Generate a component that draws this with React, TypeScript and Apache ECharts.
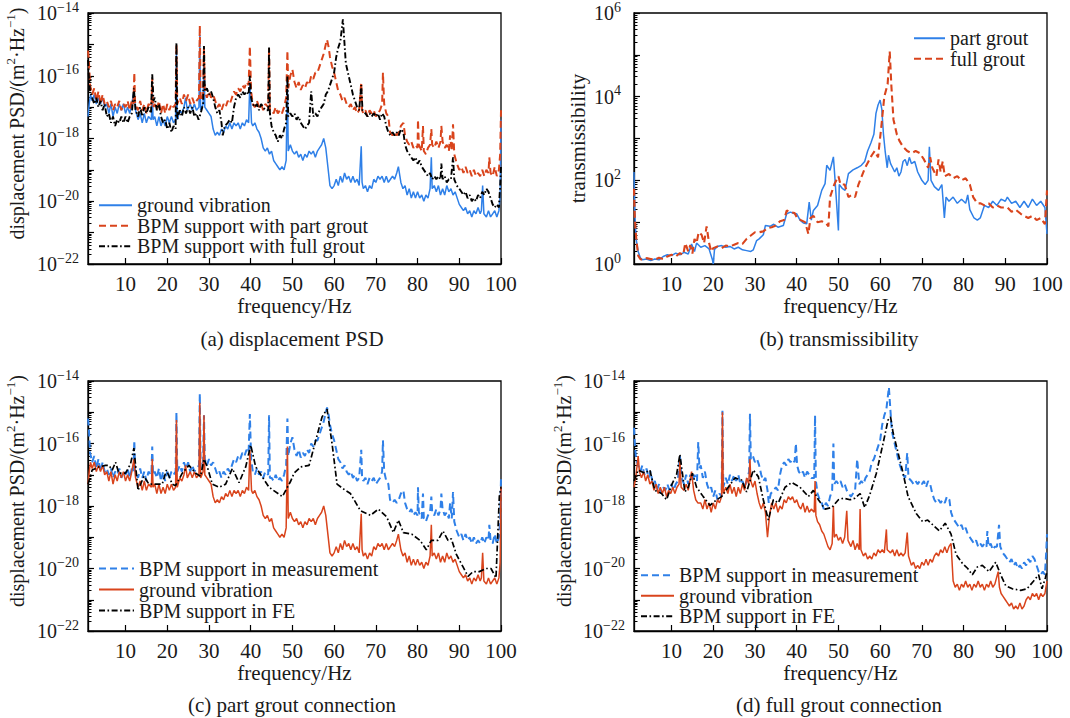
import React, { useEffect, useRef } from 'react';
import * as echarts from 'echarts';

// ---------------- data ----------------
// frequency tick labels (Hz)
const freqTicks = [10, 20, 30, 40, 50, 60, 70, 80, 90, 100];
// decades shown on the PSD axes (log10 of m^2/Hz) and the transmissibility axis
const psdDecades = [-22, -21, -20, -19, -18, -17, -16, -15, -14];
const transDecades = [0, 1, 2, 3, 4, 5, 6];

// each point: [frequency (Hz), log10(value)]
// ground vibration, part-grout test (a: blue, c: red)
const groundPart: number[][] = [
  [1.0, -17.3], [1.3, -16.9], [1.6, -16.6], [2.0, -16.8], [2.5, -16.6], [3.0, -16.9], [3.5, -16.7], [4.0, -16.9],
  [4.5, -16.7], [5.0, -17.0], [5.5, -16.9], [6.0, -17.2], [6.5, -16.9], [7.0, -17.3], [7.5, -17.0], [8.0, -17.2],
  [8.5, -16.9], [9.0, -17.1], [9.5, -16.9], [10.0, -17.2], [10.5, -17.0], [11.0, -17.2], [11.5, -16.9], [12.0, -16.5],
  [12.4, -17.1], [13.0, -17.4], [13.5, -17.2], [14.0, -17.5], [14.5, -17.2], [15.0, -17.5], [15.5, -17.3], [16.2, -17.4],
  [16.4, -16.5], [16.6, -17.4], [17.0, -17.3], [17.5, -17.6], [18.0, -17.3], [18.5, -17.6], [19.0, -17.4], [19.5, -17.6],
  [20.0, -17.3], [20.5, -17.5], [21.0, -17.3], [21.5, -17.5], [22.0, -17.4], [22.2, -15.25], [22.4, -17.4], [23.0, -17.1],
  [23.5, -17.2], [24.0, -17.0], [24.4, -16.7], [24.8, -17.1], [25.5, -16.9], [26.0, -17.1], [26.5, -16.9], [27.0, -17.1],
  [27.6, -17.0], [27.8, -14.7], [28.0, -17.1], [28.6, -16.9], [28.8, -15.1], [29.0, -17.0], [29.5, -17.1], [30.0, -17.2],
  [30.5, -17.3], [31.0, -17.7], [31.5, -17.9], [32.0, -17.8], [32.5, -17.9], [33.0, -17.7], [33.5, -17.8], [34.0, -17.6],
  [34.5, -17.7], [35.0, -17.5], [35.5, -17.7], [36.0, -17.5], [36.5, -17.6], [37.0, -17.5], [37.5, -17.7], [38.0, -17.5],
  [38.5, -17.6], [39.0, -17.4], [39.5, -17.5], [39.8, -16.2], [40.2, -17.5], [40.5, -17.6], [41.0, -17.5], [41.5, -17.7],
  [42.0, -17.8], [42.5, -18.0], [43.0, -18.3], [43.5, -18.4], [44.0, -18.3], [44.5, -18.5], [45.0, -18.4], [45.5, -18.7],
  [46.0, -18.8], [46.5, -18.9], [47.0, -19.0], [47.5, -18.9], [48.0, -19.0], [48.5, -18.7], [48.8, -16.1], [49.0, -18.4],
  [49.5, -18.2], [50.0, -18.4], [50.5, -18.5], [51.0, -18.4], [51.5, -18.6], [52.0, -18.5], [52.5, -18.7], [53.0, -18.5],
  [53.5, -18.6], [54.0, -18.4], [54.5, -18.5], [55.0, -18.4], [55.5, -18.6], [56.0, -18.4], [56.5, -18.3], [57.0, -18.2],
  [57.5, -18.0], [58.0, -18.3], [58.5, -18.9], [59.0, -19.5], [59.5, -19.6], [60.0, -19.5], [60.5, -19.3], [61.0, -19.5],
  [61.5, -19.2], [62.0, -19.4], [62.5, -19.1], [63.0, -19.3], [63.5, -19.2], [64.0, -19.4], [64.5, -19.2], [65.0, -19.4],
  [65.5, -19.3], [66.0, -19.5], [66.5, -18.25], [66.7, -19.4], [67.0, -19.6], [67.5, -19.5], [68.0, -19.7], [68.5, -19.5],
  [69.0, -19.6], [69.5, -19.3], [70.0, -19.4], [70.5, -19.2], [71.0, -19.3], [71.5, -19.2], [72.0, -19.4], [72.5, -19.2],
  [73.0, -19.4], [73.5, -19.3], [74.0, -19.2], [74.5, -19.3], [75.0, -19.1], [75.4, -18.9], [76.0, -19.4], [76.5, -19.6],
  [77.0, -19.5], [77.5, -19.8], [78.0, -19.6], [78.5, -19.9], [79.0, -19.7], [79.5, -19.9], [80.0, -19.7], [80.5, -19.9],
  [81.0, -19.8], [81.5, -20.0], [82.0, -19.8], [82.5, -19.9], [83.0, -19.6], [83.3, -18.6], [83.5, -19.6], [84.0, -19.5],
  [84.5, -19.7], [85.0, -19.5], [85.5, -19.8], [86.0, -19.6], [86.5, -19.8], [87.0, -19.5], [87.5, -19.7], [88.0, -19.6],
  [88.5, -19.8], [89.0, -19.7], [89.5, -19.9], [90.0, -20.1], [90.5, -20.2], [91.0, -20.3], [91.5, -20.2], [92.0, -20.4],
  [92.5, -20.3], [93.0, -20.5], [93.5, -20.3], [94.0, -20.4], [94.5, -20.2], [95.0, -20.4], [95.3, -20.3], [95.6, -19.5],
  [95.9, -20.4], [96.5, -20.5], [97.0, -20.3], [97.5, -20.5], [98.0, -20.4], [98.5, -20.3], [99.0, -20.5], [99.5, -20.3],
  [99.8, -19.8], [100.0, -17.4],
];

// BPM support, part grout measurement (a: red dashed, c: blue dashed)
const measPart: number[][] = [
  [1.0, -15.2], [1.2, -15.5], [1.5, -16.3], [2.0, -16.6], [2.5, -16.4], [3.0, -16.8], [3.5, -16.5], [4.0, -16.9],
  [4.5, -16.6], [5.0, -16.9], [5.5, -16.8], [6.0, -17.0], [6.5, -16.8], [7.0, -17.1], [7.5, -16.9], [8.0, -17.0],
  [8.5, -16.8], [9.0, -17.1], [9.5, -16.9], [10.0, -17.0], [10.5, -16.8], [11.0, -17.1], [11.5, -16.8], [11.9, -16.9],
  [12.1, -15.9], [12.3, -16.9], [13.0, -17.1], [13.5, -16.8], [14.0, -17.1], [14.5, -16.9], [15.0, -17.2], [15.5, -16.9],
  [16.2, -17.0], [16.4, -16.1], [16.6, -17.0], [17.0, -16.9], [17.5, -17.1], [18.0, -16.8], [18.5, -17.2], [19.0, -16.9],
  [19.5, -17.2], [20.0, -16.9], [20.5, -17.1], [21.0, -16.9], [21.5, -17.0], [22.0, -16.9], [22.2, -15.0], [22.4, -16.9],
  [23.0, -16.7], [23.5, -16.9], [24.0, -16.6], [24.5, -16.8], [25.0, -16.6], [25.5, -16.9], [26.0, -16.7], [26.5, -16.9],
  [27.0, -16.8], [27.6, -16.7], [27.8, -14.4], [28.0, -16.8], [28.6, -16.6], [28.8, -15.1], [29.0, -16.5], [29.5, -16.7],
  [30.0, -16.5], [30.5, -16.7], [31.0, -16.6], [31.5, -16.8], [32.0, -17.0], [32.5, -16.9], [33.0, -17.1], [33.5, -16.9],
  [34.0, -17.0], [34.5, -16.8], [35.0, -16.9], [35.5, -16.7], [36.0, -16.5], [36.5, -16.6], [37.0, -16.4], [37.5, -16.5],
  [38.0, -16.3], [38.5, -16.4], [39.0, -16.2], [39.5, -16.3], [39.8, -15.06], [40.1, -16.5], [40.5, -16.9], [41.0, -17.0],
  [41.5, -16.8], [42.0, -17.0], [42.5, -16.9], [43.0, -17.1], [43.5, -16.9], [44.2, -17.0], [44.4, -15.1], [44.6, -17.1],
  [45.0, -17.1], [45.5, -17.2], [46.0, -17.0], [46.5, -17.2], [47.0, -17.1], [47.5, -17.2], [48.0, -17.0], [48.5, -16.7],
  [48.8, -15.2], [49.0, -16.4], [49.5, -16.0], [50.0, -15.8], [50.5, -16.2], [51.0, -16.4], [51.5, -16.2], [52.0, -16.45],
  [52.5, -16.3], [53.0, -16.4], [53.5, -16.2], [54.0, -16.3], [54.5, -16.0], [55.0, -16.1], [55.5, -15.9], [56.0, -15.9],
  [56.5, -15.7], [57.0, -15.5], [57.5, -15.3], [58.0, -15.0], [58.3, -14.85], [58.7, -15.1], [59.0, -15.4], [59.5, -15.7],
  [60.0, -15.9], [60.5, -16.2], [61.0, -16.5], [61.5, -16.6], [62.0, -16.8], [62.5, -16.7], [63.0, -16.9], [63.5, -17.0],
  [64.0, -16.9], [64.5, -17.1], [65.0, -17.0], [65.5, -17.2], [66.0, -17.1], [66.5, -16.2], [66.7, -17.1], [67.0, -17.2],
  [67.5, -17.1], [68.0, -17.3], [68.5, -17.1], [69.0, -17.2], [69.5, -17.1], [70.0, -17.3], [70.5, -17.2], [71.0, -17.1],
  [71.5, -16.9], [71.7, -15.9], [72.0, -16.9], [72.5, -17.2], [73.0, -17.3], [73.4, -17.8], [74.0, -17.9], [74.5, -17.8],
  [75.0, -17.9], [75.5, -17.8], [76.0, -17.6], [76.6, -17.5], [77.0, -17.9], [77.5, -18.1], [78.0, -18.2], [78.5, -18.1],
  [79.0, -18.3], [79.5, -18.2], [80.0, -18.3], [80.1, -17.4], [80.3, -18.2], [81.0, -18.4], [81.3, -17.6], [81.5, -18.4],
  [82.0, -18.5], [82.5, -18.3], [83.0, -18.2], [83.3, -17.7], [83.5, -18.2], [84.0, -18.3], [84.5, -18.1], [85.0, -18.3],
  [85.5, -18.1], [85.7, -17.6], [86.0, -18.1], [86.5, -18.3], [87.0, -18.2], [87.5, -18.4], [87.8, -17.9], [88.2, -18.4],
  [88.5, -17.55], [88.8, -18.5], [89.4, -18.8], [90.0, -19.0], [90.5, -18.9], [91.0, -19.1], [91.5, -18.9], [92.0, -19.1],
  [92.5, -19.0], [93.0, -19.2], [93.5, -19.0], [94.0, -19.2], [94.5, -19.1], [95.0, -19.2], [95.5, -19.0], [96.0, -19.2],
  [96.5, -19.0], [97.0, -19.1], [97.2, -18.6], [97.5, -19.1], [98.0, -19.2], [98.5, -18.9], [99.0, -19.2], [99.5, -19.0],
  [99.8, -18.5], [100.0, -17.1],
];

// BPM support, full grout measurement (a: black dash-dot, d: blue dashed)
const measFull: number[][] = [
  [1.0, -15.5], [1.2, -16.0], [1.5, -16.5], [2.0, -16.7], [2.5, -16.9], [3.0, -16.7], [3.5, -17.0], [4.0, -16.8],
  [4.5, -17.1], [5.0, -16.9], [5.5, -17.3], [6.0, -17.2], [6.5, -17.5], [7.0, -17.3], [7.5, -17.6], [8.0, -17.4],
  [8.5, -17.5], [9.0, -17.3], [9.5, -17.5], [10.0, -17.3], [10.5, -17.5], [11.0, -17.3], [11.5, -17.2], [12.0, -16.4],
  [12.4, -17.1], [13.0, -17.3], [13.5, -17.0], [14.0, -17.3], [14.5, -17.0], [15.0, -17.2], [15.5, -17.0], [16.1, -17.2],
  [16.4, -15.95], [16.7, -16.8], [17.0, -16.7], [17.5, -17.1], [18.0, -16.9], [18.5, -17.3], [19.0, -17.5], [19.5, -17.4],
  [20.0, -17.7], [20.5, -17.5], [21.0, -17.8], [21.5, -17.6], [22.0, -17.7], [22.2, -14.95], [22.4, -17.4], [23.0, -17.1],
  [23.5, -17.3], [24.0, -17.0], [24.5, -17.2], [25.0, -17.0], [25.5, -17.2], [26.0, -17.0], [26.5, -17.3], [27.0, -17.2],
  [27.5, -17.4], [28.0, -17.2], [28.6, -16.9], [28.8, -15.05], [29.0, -16.5], [29.5, -16.4], [30.0, -16.6], [30.5, -16.5],
  [31.0, -16.7], [31.5, -17.0], [32.0, -17.2], [32.5, -17.1], [33.0, -17.5], [33.3, -17.9], [33.8, -17.6], [34.5, -17.5],
  [35.0, -17.4], [35.5, -17.5], [36.0, -17.0], [36.5, -16.7], [37.0, -16.6], [37.5, -16.7], [38.0, -16.5], [38.5, -16.6],
  [39.0, -16.5], [39.5, -16.6], [39.8, -16.0], [40.1, -16.7], [40.5, -16.9], [41.0, -17.0], [41.5, -16.9], [42.0, -17.1],
  [42.5, -16.9], [43.0, -17.0], [43.5, -17.1], [44.2, -17.1], [44.4, -15.1], [44.6, -17.2], [45.0, -17.6], [45.5, -17.8],
  [46.0, -17.9], [46.5, -18.1], [47.0, -17.9], [47.5, -18.0], [48.0, -17.7], [48.5, -17.5], [48.8, -16.0], [49.0, -17.3],
  [49.5, -17.2], [50.0, -17.3], [50.5, -17.2], [51.0, -17.4], [51.5, -17.3], [52.0, -17.5], [52.5, -17.6], [53.0, -17.7],
  [53.5, -17.6], [54.0, -17.5], [54.5, -16.5], [55.0, -17.3], [55.5, -17.2], [56.0, -17.3], [56.5, -17.1], [57.0, -17.0],
  [57.5, -16.9], [58.0, -16.6], [58.5, -16.5], [59.0, -16.3], [59.5, -16.1], [60.0, -15.9], [60.5, -15.4], [61.0, -15.1],
  [61.5, -14.9], [62.1, -14.2], [62.5, -15.0], [62.8, -15.6], [63.3, -15.9], [64.0, -16.3], [64.5, -16.6], [65.0, -16.8],
  [65.5, -17.0], [66.0, -17.1], [66.5, -16.3], [66.8, -17.1], [67.5, -17.2], [68.0, -17.3], [68.5, -17.2], [69.0, -17.3],
  [69.5, -17.2], [70.0, -17.3], [70.5, -17.2], [71.0, -17.4], [71.5, -17.2], [72.0, -17.3], [72.5, -17.6], [73.0, -17.8],
  [73.5, -17.9], [74.0, -17.8], [74.5, -17.9], [75.0, -17.8], [75.5, -17.9], [76.0, -17.7], [76.6, -17.8], [77.0, -18.2],
  [77.5, -18.4], [78.0, -18.5], [78.5, -18.6], [79.0, -18.7], [79.5, -18.6], [80.0, -18.8], [80.5, -18.7], [81.0, -18.9],
  [81.5, -19.0], [82.0, -19.1], [82.5, -19.2], [83.0, -19.1], [83.5, -19.3], [84.0, -19.2], [84.5, -19.3], [85.0, -19.2],
  [85.5, -19.3], [85.7, -18.8], [86.0, -19.3], [86.5, -19.2], [87.0, -19.4], [87.5, -19.3], [88.0, -19.3], [88.5, -18.6],
  [88.8, -19.3], [89.4, -19.5], [90.0, -19.6], [90.5, -19.7], [91.0, -19.8], [91.5, -19.7], [92.0, -19.9], [92.5, -19.8],
  [93.0, -20.0], [93.5, -19.9], [94.0, -20.0], [94.5, -19.8], [95.0, -19.9], [95.5, -19.7], [96.0, -19.8], [96.5, -19.6],
  [97.0, -19.7], [97.5, -19.9], [98.0, -20.1], [98.5, -20.2], [99.0, -20.1], [99.5, -20.2], [99.8, -19.5], [100.0, -18.9],
];

// ground vibration, full-grout test (d: red)
const groundFull: number[][] = [
  [1.0, -17.4], [1.5, -17.0], [2.0, -16.4], [2.3, -16.9], [2.8, -17.1], [3.3, -16.9], [3.8, -17.2], [4.3, -17.0],
  [4.8, -17.3], [5.3, -17.2], [5.8, -17.5], [6.3, -17.3], [6.8, -17.6], [7.3, -17.4], [7.8, -17.6], [8.3, -17.4],
  [8.8, -17.7], [9.3, -17.5], [9.8, -17.6], [10.3, -17.4], [10.8, -17.6], [11.3, -17.4], [11.8, -17.3], [12.0, -16.5],
  [12.3, -17.4], [13.0, -17.5], [13.5, -17.3], [14.0, -17.5], [14.8, -16.9], [15.3, -17.5], [15.8, -17.8], [16.3, -17.9],
  [17.0, -17.9], [17.5, -18.1], [18.0, -17.8], [18.5, -18.1], [19.0, -17.9], [19.5, -18.2], [20.0, -17.9], [20.5, -18.1],
  [21.0, -17.8], [21.5, -17.9], [22.0, -17.7], [22.2, -15.0], [22.4, -17.6], [23.0, -17.4], [23.5, -17.6], [24.0, -17.3],
  [24.5, -17.6], [25.0, -17.4], [25.5, -17.7], [26.0, -17.4], [26.5, -17.6], [27.0, -17.3], [27.5, -17.5], [28.0, -17.1],
  [28.5, -17.3], [28.8, -16.5], [29.0, -17.2], [29.5, -17.4], [30.0, -17.2], [30.5, -17.6], [31.0, -17.9], [31.5, -18.1],
  [32.0, -17.9], [32.5, -18.2], [33.0, -19.0], [33.5, -18.3], [34.0, -17.9], [34.5, -18.1], [35.0, -17.9], [35.5, -18.2],
  [36.0, -18.0], [36.5, -18.1], [37.0, -17.8], [37.5, -17.9], [38.0, -17.7], [38.5, -17.8], [39.0, -17.7], [39.5, -17.9],
  [40.0, -17.8], [40.5, -18.0], [41.0, -18.1], [41.5, -17.9], [42.0, -18.2], [42.5, -18.0], [43.0, -18.2], [43.5, -18.1],
  [44.2, -18.2], [44.4, -17.2], [44.6, -18.3], [45.0, -18.5], [45.5, -18.6], [46.0, -18.8], [46.5, -18.9], [47.0, -19.1],
  [47.5, -19.3], [48.0, -19.4], [48.5, -19.2], [48.8, -18.0], [49.0, -19.0], [49.5, -18.9], [50.0, -19.1], [50.5, -19.0],
  [51.0, -19.2], [51.5, -19.0], [52.0, -18.15], [52.3, -19.1], [53.0, -19.3], [53.5, -19.1], [54.0, -19.4], [54.5, -19.2],
  [55.0, -19.4], [55.2, -18.1], [55.4, -19.4], [56.0, -19.6], [56.5, -19.5], [57.0, -19.7], [57.5, -19.6], [58.0, -19.7],
  [58.5, -19.5], [59.0, -19.6], [59.5, -19.4], [60.0, -19.5], [60.5, -19.4], [61.0, -19.5], [61.5, -18.75], [61.7, -19.4],
  [62.5, -19.5], [63.0, -19.4], [63.5, -19.6], [64.0, -19.4], [64.5, -19.6], [65.0, -19.5], [65.5, -19.6], [66.0, -19.5],
  [66.5, -18.85], [66.8, -19.6], [67.5, -19.9], [68.0, -19.8], [68.5, -20.0], [69.0, -19.9], [69.5, -20.0], [70.0, -19.8],
  [70.5, -19.9], [71.0, -19.7], [71.5, -19.9], [72.0, -19.7], [72.5, -19.8], [73.0, -19.6], [73.5, -19.5], [74.0, -19.6],
  [74.5, -19.4], [75.0, -19.5], [75.5, -19.3], [76.0, -19.5], [76.5, -19.3], [77.0, -19.2], [77.5, -20.4], [78.0, -20.6],
  [78.5, -20.5], [79.0, -20.7], [79.5, -20.5], [80.0, -20.6], [80.5, -20.4], [81.0, -20.6], [81.5, -20.5], [82.0, -20.7],
  [82.5, -20.5], [83.0, -20.6], [83.5, -20.4], [84.0, -20.6], [84.5, -20.5], [85.0, -20.7], [85.5, -20.5], [86.0, -20.6],
  [86.5, -20.4], [87.0, -20.6], [87.5, -20.5], [88.3, -20.1], [88.6, -20.6], [89.0, -20.8], [89.5, -20.9], [90.0, -21.0],
  [90.5, -21.1], [91.0, -21.2], [91.5, -21.1], [92.0, -21.3], [92.5, -21.2], [93.0, -21.3], [93.5, -21.1], [94.0, -21.3],
  [94.5, -21.2], [95.0, -21.0], [95.5, -20.9], [96.0, -21.0], [96.5, -20.8], [97.0, -20.9], [97.5, -20.8], [98.0, -21.0],
  [98.5, -20.8], [99.0, -20.9], [99.5, -20.8], [100.0, -20.4],
];

// finite-element results (c: part grout, d: full grout)
const fePart: number[][] = [
  [1.0, -17.3], [2.0, -16.85], [3.6, -16.75], [5.2, -16.7], [6.0, -16.7], [6.8, -16.85], [7.6, -16.6], [8.4, -16.95],
  [10.0, -16.95], [11.2, -16.65], [12.0, -16.15], [13.0, -17.5], [14.4, -17.05], [15.6, -17.3], [17.0, -17.3], [18.8, -17.3],
  [19.8, -16.85], [21.2, -17.3], [22.0, -17.35], [23.6, -16.95], [25.2, -16.7], [26.8, -16.95], [28.0, -17.05], [28.8, -16.5],
  [29.6, -16.75], [30.8, -17.3], [32.4, -17.4], [34.0, -17.3], [35.6, -16.8], [37.2, -17.25], [38.8, -16.75], [40.0, -16.05],
  [41.2, -16.75], [44.4, -17.4], [47.6, -17.7], [49.6, -17.2], [50.4, -16.95], [52.0, -16.75], [54.0, -16.7], [55.6, -15.9],
  [57.1, -15.15], [58.3, -14.9], [59.5, -16.0], [60.7, -17.3], [62.7, -17.5], [63.9, -17.6], [66.3, -18.15], [68.7, -18.3],
  [70.6, -18.1], [72.6, -18.35], [74.2, -18.85], [75.4, -18.45], [76.6, -18.85], [78.6, -18.9], [80.6, -19.1], [82.1, -19.4],
  [83.3, -19.1], [84.9, -19.1], [86.1, -18.8], [87.3, -19.1], [88.1, -19.05], [89.3, -19.55], [90.9, -19.95], [92.1, -20.25],
  [93.3, -20.1], [94.8, -20.1], [96.4, -20.0], [97.6, -20.0], [98.8, -20.3], [99.6, -17.7], [100.0, -17.4],
];
const feFull: number[][] = [
  [1.0, -17.2], [2.0, -16.85], [3.6, -16.95], [4.8, -16.85], [6.0, -17.5], [7.6, -17.6], [8.8, -17.8], [10.0, -17.33],
  [11.2, -17.0], [12.0, -16.35], [13.2, -17.55], [14.0, -17.4], [15.0, -16.95], [16.0, -17.4], [17.6, -17.7], [19.2, -17.98],
  [20.8, -17.8], [22.0, -17.7], [23.6, -17.4], [25.2, -17.1], [26.8, -17.17], [28.0, -17.55], [29.6, -16.85], [30.8, -17.06],
  [32.0, -17.8], [33.2, -18.45], [34.4, -17.8], [35.6, -17.9], [37.2, -17.4], [38.8, -17.25], [40.8, -17.4], [42.8, -17.7],
  [44.0, -17.5], [45.2, -17.8], [46.8, -18.1], [48.4, -18.05], [50.0, -17.8], [51.2, -17.75], [52.8, -17.8], [54.0, -17.75],
  [55.2, -17.6], [56.3, -18.05], [57.5, -17.65], [59.1, -16.95], [60.7, -16.0], [61.9, -15.25], [62.5, -15.15], [63.1, -15.65],
  [64.3, -16.3], [65.5, -16.95], [66.7, -17.7], [68.7, -18.25], [70.2, -18.5], [71.4, -18.45], [72.6, -18.6], [74.2, -18.8],
  [75.6, -18.55], [77.0, -18.9], [78.2, -19.55], [79.8, -19.85], [81.0, -20.0], [82.1, -20.2], [83.3, -19.95], [84.5, -19.9],
  [86.1, -20.1], [87.7, -19.8], [88.9, -20.2], [90.1, -20.55], [91.7, -20.65], [93.7, -20.7], [95.2, -20.65], [96.8, -20.4],
  [98.0, -20.2], [98.8, -20.65], [99.6, -20.3], [100.0, -20.1],
];

// transmissibility, log10 (b)
const transPart: number[][] = [
  [1.0, 2.2], [1.2, 1.2], [1.5, 0.6], [2.0, 0.3], [2.5, 0.15], [3.0, 0.1], [4.0, 0.12], [5.0, 0.08], [6.0, 0.12],
  [7.0, 0.1], [8.0, 0.18], [9.0, 0.22], [10.0, 0.2], [11.0, 0.26], [12.0, 0.22], [13.0, 0.28], [14.0, 0.24], [14.8, 0.48],
  [15.5, 0.3], [16.0, 0.5], [17.0, 0.4], [18.0, 0.44], [19.0, 0.36], [19.8, 0.1], [20.0, 0.0], [20.3, 0.35], [21.0, 0.42],
  [22.0, 0.44], [23.0, 0.4], [24.0, 0.42], [25.0, 0.36], [26.0, 0.4], [27.0, 0.34], [28.0, 0.32], [29.0, 0.3], [29.6, 0.34],
  [30.4, 0.56], [31.0, 0.6], [32.0, 0.7], [32.5, 0.92], [33.6, 0.9], [34.5, 0.95], [35.5, 0.88], [36.8, 0.92], [37.6, 1.2],
  [38.5, 1.24], [39.5, 1.2], [40.0, 1.2], [40.8, 1.05], [41.6, 0.98], [42.4, 0.96], [43.0, 1.48], [43.5, 1.05], [44.0, 1.28],
  [45.0, 1.4], [46.0, 1.76], [46.8, 1.92], [47.2, 2.36], [48.0, 2.24], [48.8, 2.56], [49.2, 2.0], [50.0, 0.8], [50.2, 1.9],
  [51.0, 1.8], [51.6, 1.76], [52.4, 2.16], [53.5, 2.25], [54.5, 2.3], [55.5, 2.36], [56.3, 2.45], [57.0, 2.7], [57.8, 2.9],
  [58.5, 3.1], [59.0, 3.6], [59.5, 3.8], [60.0, 3.92], [60.4, 3.7], [60.8, 3.1], [61.2, 2.7], [61.7, 2.3], [62.0, 2.6],
  [62.5, 2.4], [63.0, 2.3], [63.5, 2.2], [64.0, 2.3], [64.5, 2.1], [65.0, 2.2], [65.5, 2.45], [66.0, 2.5], [66.5, 2.35],
  [67.0, 2.55], [67.5, 2.4], [68.3, 2.45], [69.0, 2.2], [69.5, 2.1], [70.0, 2.0], [70.8, 1.9], [71.5, 2.0], [71.8, 2.8],
  [72.2, 2.0], [73.0, 1.85], [74.0, 1.76], [74.8, 1.9], [75.4, 1.1], [75.8, 1.6], [76.5, 1.5], [77.5, 1.6], [78.5, 1.45],
  [79.5, 1.55], [80.5, 1.45], [81.0, 1.65], [81.5, 1.3], [82.5, 1.1], [83.3, 1.05], [84.0, 1.1], [85.0, 1.4], [86.0, 1.35],
  [87.0, 1.5], [88.0, 1.4], [89.0, 1.55], [90.0, 1.5], [90.5, 1.6], [91.5, 1.45], [92.5, 1.5], [93.5, 1.35], [94.5, 1.5],
  [95.5, 1.35], [96.5, 1.55], [97.5, 1.4], [98.5, 1.5], [99.5, 1.35], [100.0, 0.72],
];
const transFull: number[][] = [
  [1.0, 1.8], [1.2, 1.1], [1.5, 0.65], [2.0, 0.2], [2.5, 0.12], [3.0, 0.1], [4.0, 0.14], [5.0, 0.12], [6.0, 0.1],
  [7.0, 0.15], [8.0, 0.12], [9.0, 0.18], [10.0, 0.22], [11.0, 0.18], [12.0, 0.26], [12.8, 0.22], [13.3, 0.5], [14.0, 0.3],
  [14.5, 0.45], [15.0, 0.25], [15.5, 0.6], [16.0, 0.5], [16.5, 0.76], [17.2, 0.7], [17.8, 0.5], [18.4, 0.9], [19.0, 0.5],
  [19.5, 0.3], [20.0, 0.38], [21.0, 0.42], [22.0, 0.38], [23.0, 0.44], [24.0, 0.42], [25.0, 0.46], [26.0, 0.5], [27.0, 0.48],
  [28.0, 0.6], [29.0, 0.68], [30.0, 0.76], [31.0, 0.76], [32.0, 0.78], [33.0, 0.86], [34.0, 0.88], [35.0, 0.92], [36.0, 1.02],
  [37.0, 1.05], [37.6, 1.28], [38.4, 1.24], [39.5, 1.22], [40.0, 1.12], [41.0, 1.05], [42.0, 1.0], [42.8, 0.72], [43.3, 1.1],
  [44.0, 1.15], [45.0, 1.0], [46.0, 1.02], [47.0, 0.98], [47.6, 0.9], [48.0, 1.6], [49.0, 1.9], [50.0, 2.1], [50.5, 1.9],
  [51.5, 1.9], [52.4, 1.6], [53.2, 1.65], [54.0, 1.6], [54.8, 1.9], [55.6, 2.1], [56.4, 2.3], [57.2, 2.45], [58.0, 2.6],
  [58.7, 2.7], [59.5, 2.55], [60.3, 3.3], [61.0, 4.0], [61.8, 4.3], [62.3, 5.08], [62.7, 4.25], [63.2, 3.45], [64.0, 3.1],
  [64.6, 2.95], [65.5, 2.8], [66.5, 2.7], [67.5, 2.65], [68.5, 2.7], [69.5, 2.65], [70.5, 2.5], [71.5, 2.3], [72.0, 2.55],
  [72.5, 2.3], [73.5, 2.1], [74.0, 2.5], [74.5, 2.2], [75.0, 2.45], [75.5, 2.1], [76.5, 2.15], [77.5, 2.05], [78.5, 2.1],
  [79.5, 2.0], [80.5, 2.05], [81.5, 1.9], [82.3, 1.6], [83.3, 1.45], [84.1, 1.45], [85.0, 1.4], [86.0, 1.45], [87.0, 1.35],
  [88.0, 1.4], [89.0, 1.35], [90.5, 1.35], [91.5, 1.25], [92.5, 1.3], [93.7, 1.2], [94.5, 1.15], [95.5, 1.1], [96.5, 1.15],
  [97.5, 1.05], [98.5, 1.1], [99.5, 0.95], [100.0, 1.76],
];

const panelTitles = ['(a) displacement PSD', '(b) transmissibility', '(c) part grout connection', '(d) full grout connection'];

// ---------------- styling ----------------
const FONT = '"Liberation Serif", "Times New Roman", Times, serif';
const TXT = '#1a1a1a';
const BLUE = '#2f80e8';
const RED = '#d9441c';
const BLACK = '#000000';
const DASH = [7, 4];
const DASHDOT = [6, 2.5, 1.6, 2.5];

const grids = [
  { left: 88, top: 13, width: 413, height: 251 },
  { left: 634, top: 13, width: 413, height: 251 },
  { left: 88, top: 381, width: 413, height: 250 },
  { left: 634, top: 381, width: 413, height: 250 },
];

function minorValues(decades: number[]) {
  const out: number[] = [];
  for (let i = 0; i < decades.length - 1; i++) {
    for (let k = 2; k <= 9; k++) out.push(decades[i] + Math.log10(k));
  }
  return out;
}

function powLabel(v: number) {
  const n = Math.round(v);
  if (n % 2 !== 0) return '';
  const exp = n < 0 ? '\u2212' + Math.abs(n) : String(n);
  return '{b|10}{e|' + exp + '}';
}

const labelRich = {
  b: { fontSize: 20, fontFamily: FONT, color: TXT, lineHeight: 20, verticalAlign: 'bottom' },
  e: { fontSize: 14, fontFamily: FONT, color: TXT, lineHeight: 14, padding: [0, 0, 9, 0], verticalAlign: 'bottom' },
};

const PSD_NAME = '{n|displacement PSD/(m}{s|2}{n|\u00b7Hz}{s|\u22121}{n|)}';

function xAxis(gridIndex: number) {
  return {
    type: 'value', gridIndex, min: 1, max: 100,
    axisLine: { show: true, lineStyle: { color: BLACK, width: 1.3 } },
    axisTick: { show: true, inside: true, length: 6, customValues: freqTicks, lineStyle: { color: BLACK, width: 1.2 } },
    axisLabel: { customValues: freqTicks, margin: 9, fontSize: 21, fontFamily: FONT, color: TXT },
    splitLine: { show: false },
    name: 'frequency/Hz', nameLocation: 'middle', nameGap: 31,
    nameTextStyle: { fontSize: 21, fontFamily: FONT, color: TXT },
  };
}

function yAxes(gridIndex: number, decades: number[], name: string, nameGap: number, isPsd: boolean, margin: number) {
  const min = decades[0];
  const max = decades[decades.length - 1];
  const main: any = {
    type: 'value', gridIndex, min, max, interval: 1, position: 'left',
    axisLine: { show: true, lineStyle: { color: BLACK, width: 1.3 } },
    axisTick: { show: true, inside: true, length: 6, lineStyle: { color: BLACK, width: 1.2 } },
    axisLabel: { formatter: powLabel, margin, rich: labelRich },
    splitLine: { show: false },
    name, nameLocation: 'middle', nameGap,
    nameTextStyle: isPsd
      ? {
          fontSize: 20, fontFamily: FONT, color: TXT, padding: [0, 0, 0, 30],
          rich: {
            n: { fontSize: 20, fontFamily: FONT, color: TXT, lineHeight: 20, verticalAlign: 'bottom' },
            s: { fontSize: 13, fontFamily: FONT, color: TXT, lineHeight: 13, padding: [0, 0, 10, 0], verticalAlign: 'bottom' },
          },
        }
      : { fontSize: 21, fontFamily: FONT, color: TXT },
  };
  const minor: any = {
    type: 'value', gridIndex, min, max, position: 'left',
    axisLine: { show: false },
    axisTick: { show: true, inside: true, length: 3.5, customValues: minorValues(decades), lineStyle: { color: BLACK, width: 1 } },
    axisLabel: { show: false },
    splitLine: { show: false },
  };
  return [main, minor];
}

function line(name: string, grid: number, data: number[][], color: string, width: number, type: any, z: number) {
  return {
    name, type: 'line', xAxisIndex: grid, yAxisIndex: grid * 2, data,
    symbol: 'none', showSymbol: false, silent: true, z,
    lineStyle: { color, width, type },
    itemStyle: { color },
  };
}

function legend(left: number, top: number, names: string[], itemWidth: number, lineHeight: number) {
  return {
    orient: 'vertical', left, top, itemWidth, itemHeight: 12, itemGap: 0, padding: 0,
    selectedMode: false, data: names,
    formatter: (n: string) => n.split('#')[0],
    itemStyle: { opacity: 0 },
    textStyle: { fontSize: 20, fontFamily: FONT, color: TXT, lineHeight },
  };
}

export default function App() {
  const ref = useRef<HTMLDivElement>(null);
  useEffect(() => {
    if (!ref.current) return;
    const chart = echarts.init(ref.current, undefined, { renderer: 'svg' });
    const yAll = [
      ...yAxes(0, psdDecades, PSD_NAME, 61, true, 9),
      ...yAxes(1, transDecades, 'transmissibility', 46, false, 13),
      ...yAxes(2, psdDecades, PSD_NAME, 61, true, 9),
      ...yAxes(3, psdDecades, PSD_NAME, 60, true, 9),
    ];
    const titleCenters = [
      [292, 339], [839, 339], [292, 705], [839, 705],
    ];
    const option: any = {
      animation: false,
      backgroundColor: '#ffffff',
      grid: grids.map((g) => ({ ...g, show: true, borderColor: BLACK, borderWidth: 1.3, backgroundColor: 'transparent' })),
      xAxis: [xAxis(0), xAxis(1), xAxis(2), xAxis(3)],
      yAxis: yAll,
      legend: [
        legend(98, 195, ['ground vibration#a', 'BPM support with part grout', 'BPM support with full grout'], 33, 20.5),
        legend(913, 28, ['part grout', 'full grout'], 31, 20.5),
        legend(98, 558, ['BPM support in measurement#c', 'ground vibration#c', 'BPM support in FE#c'], 35, 21),
        legend(640, 565, ['BPM support in measurement#d', 'ground vibration#d', 'BPM support in FE#d'], 33, 20.5),
      ],
      series: [
        line('ground vibration#a', 0, groundPart, BLUE, 1.5, 'solid', 2),
        line('BPM support with part grout', 0, measPart, RED, 2, DASH, 3),
        line('BPM support with full grout', 0, measFull, BLACK, 1.9, DASHDOT, 4),
        line('part grout', 1, transPart, BLUE, 1.5, 'solid', 2),
        line('full grout', 1, transFull, RED, 2.1, DASH, 3),
        line('BPM support in measurement#c', 2, measPart, BLUE, 2, DASH, 2),
        line('ground vibration#c', 2, groundPart, RED, 1.5, 'solid', 3),
        line('BPM support in FE#c', 2, fePart, BLACK, 1.7, DASHDOT, 4),
        line('BPM support in measurement#d', 3, measFull, BLUE, 2, DASH, 2),
        line('ground vibration#d', 3, groundFull, RED, 1.5, 'solid', 3),
        line('BPM support in FE#d', 3, feFull, BLACK, 1.7, DASHDOT, 4),
      ],
      graphic: panelTitles.map((t, i) => ({
        type: 'text', x: titleCenters[i][0], y: titleCenters[i][1], silent: true,
        style: { text: t, fontSize: 21, fontFamily: FONT, fill: TXT, textAlign: 'center', textVerticalAlign: 'middle' },
      })),
    };
    chart.setOption(option);
    return () => chart.dispose();
  }, []);
  return <div ref={ref} style={{ position: 'fixed', left: 0, top: 0, width: 1070, height: 718, background: '#fff' }} />;
}
